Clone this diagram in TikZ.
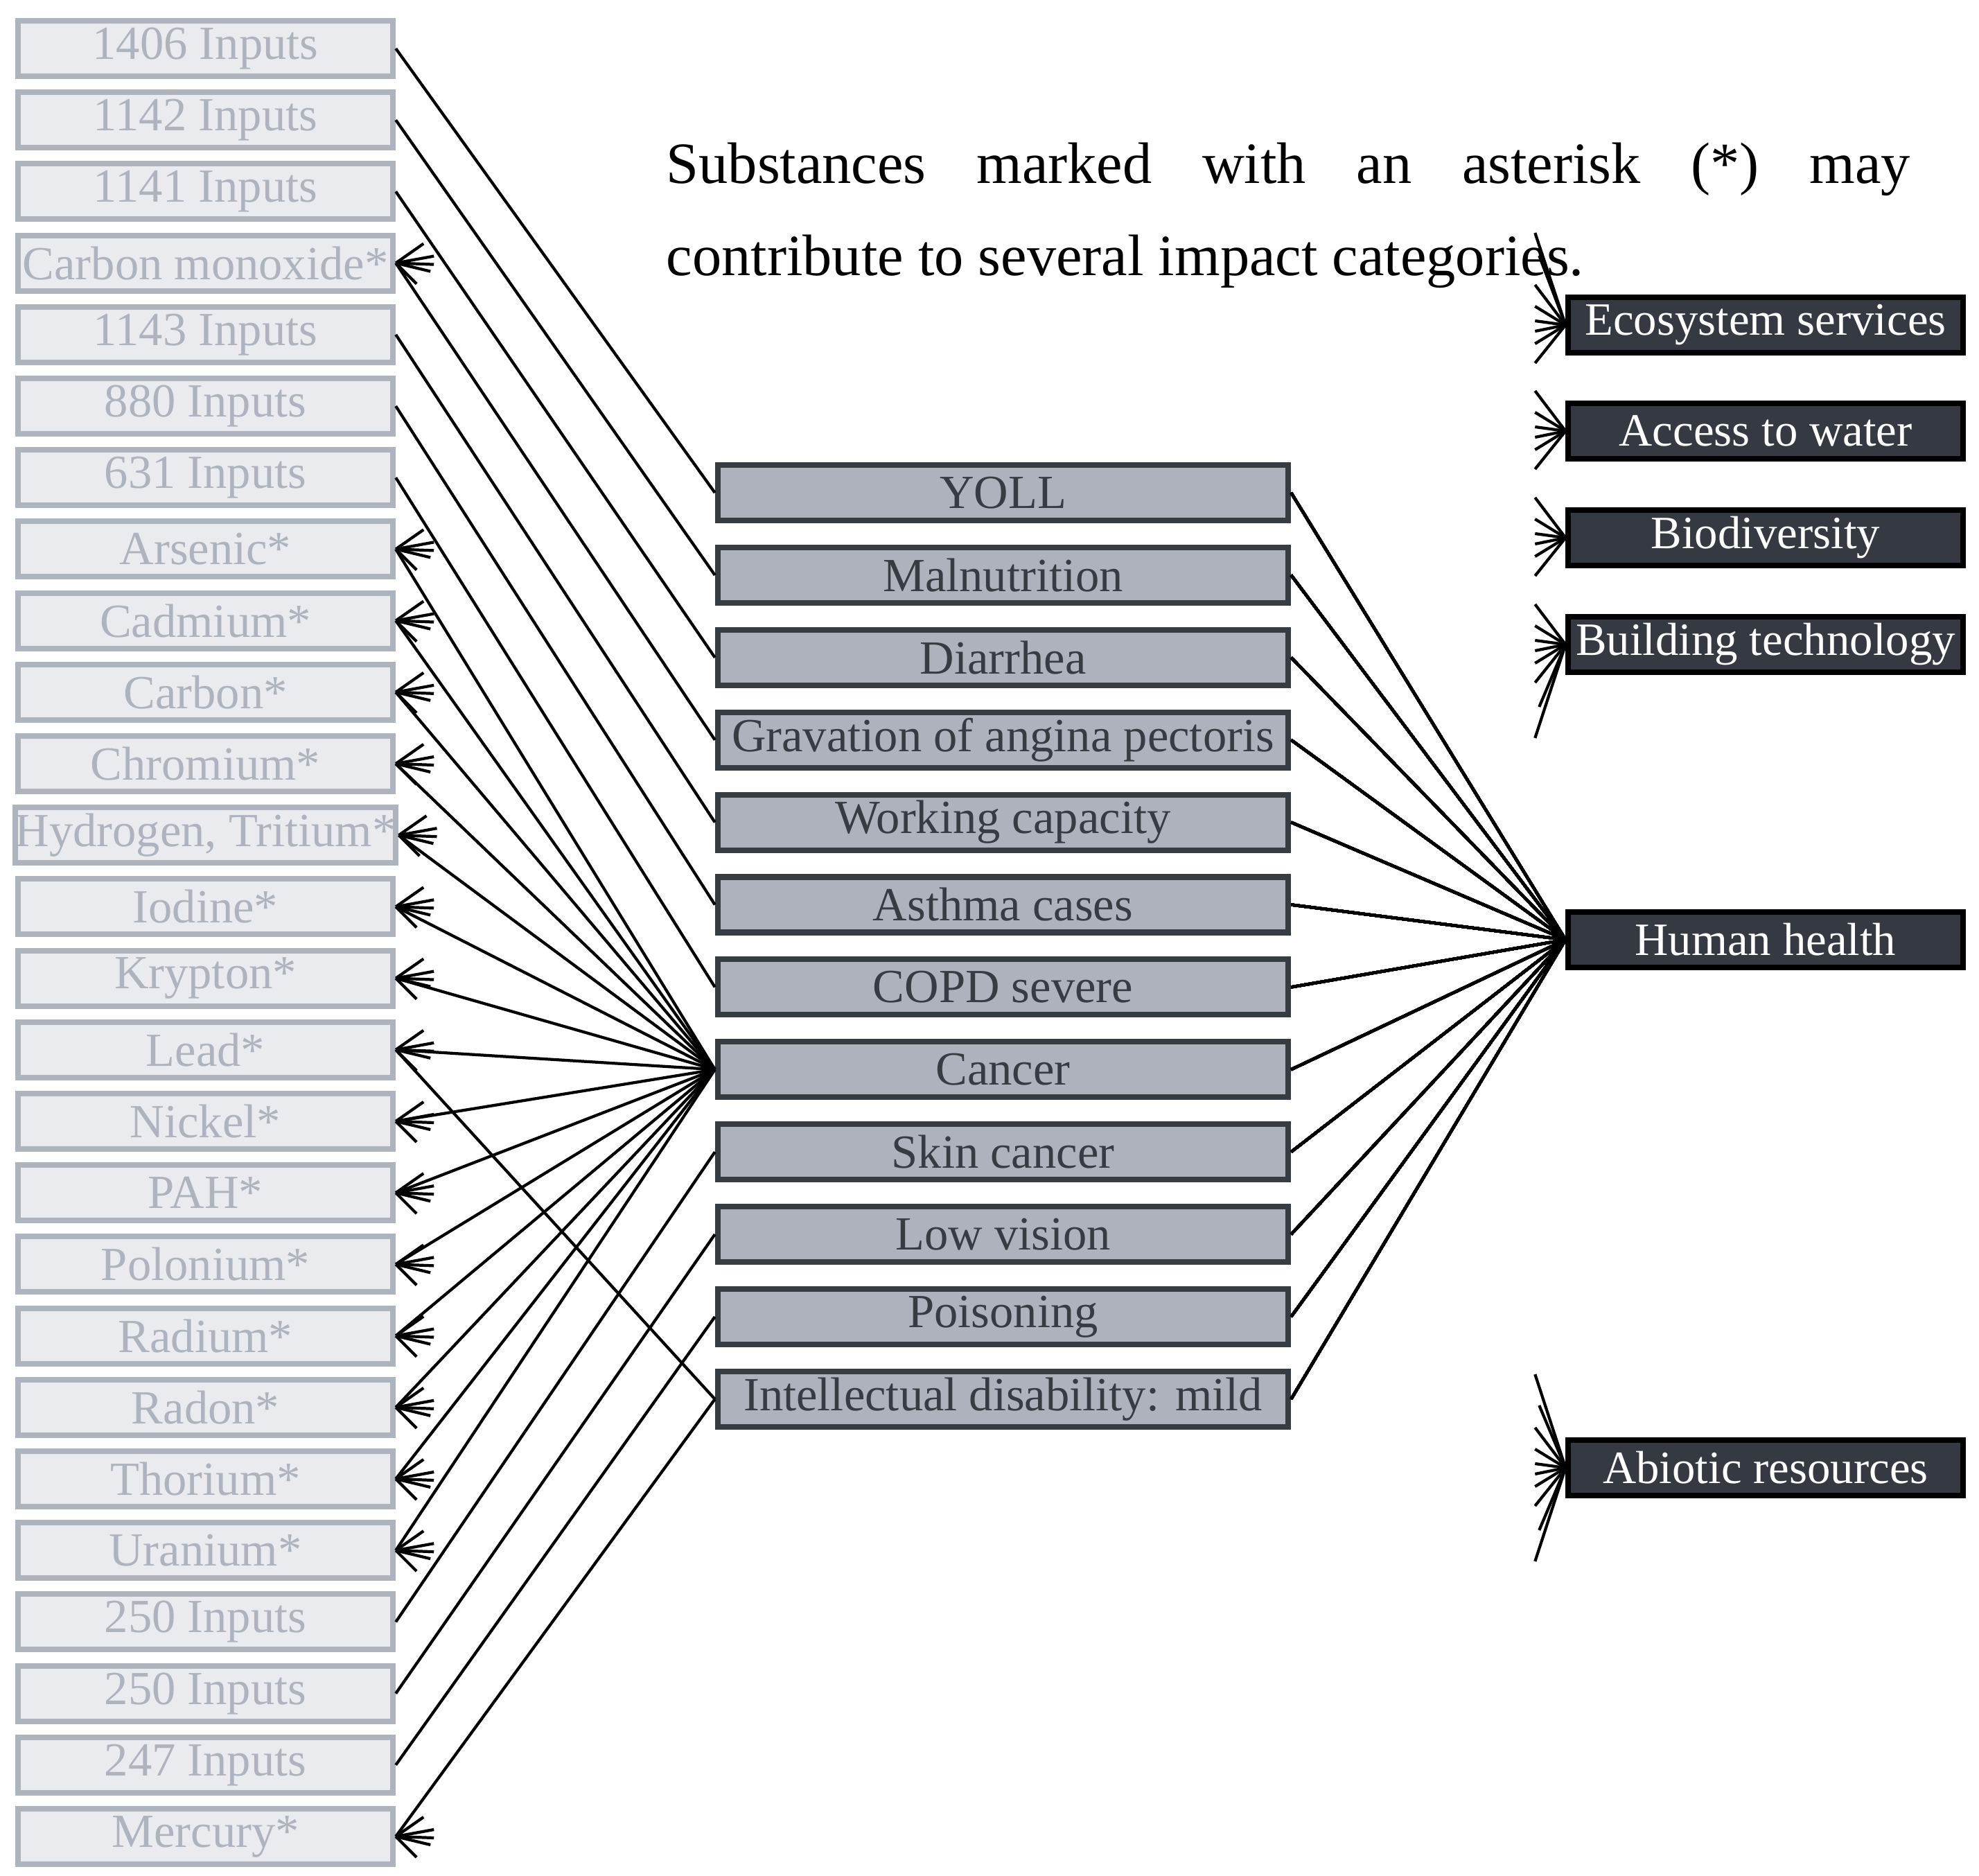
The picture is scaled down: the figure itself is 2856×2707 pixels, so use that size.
\documentclass[tikz,border=0pt]{standalone}
\usepackage{fontspec}
\setmainfont{Liberation Serif}
\begin{document}
\definecolor{lfill}{HTML}{E9EBEF}
\definecolor{lline}{HTML}{AEB4BD}
\definecolor{mfill}{HTML}{ADB2BC}
\definecolor{mline}{HTML}{373B42}
\definecolor{rfill}{HTML}{353A42}
\begin{tikzpicture}[x=0.01cm,y=-0.01cm,
  lbox/.style={draw=lline,fill=lfill,text=lline,line width=2.3pt,minimum width=5.41cm,minimum height=0.8cm,inner sep=0pt,font=\fontsize{19.5}{20}\selectfont},
  mbox/.style={draw=mline,fill=mfill,text=mline,line width=2.3pt,minimum width=8.23cm,minimum height=0.8cm,inner sep=0pt,font=\fontsize{19.5}{20}\selectfont},
  rbox/.style={draw=black,fill=rfill,text=white,line width=2.3pt,minimum width=5.69cm,minimum height=0.8cm,inner sep=0pt,font=\fontsize{19}{20}\selectfont},
  con/.style={line width=1.2pt,black}]
\useasboundingbox (0,0) rectangle (2856,2707);
\newcommand\fanleft[1]{\foreach \dx/\dy in {40/-28,55/-10,55/2,50/12,30/30} \draw[con] (#1) -- ++(\dx,\dy);}
\newcommand\fanright[2]{\foreach \dx/\dy in {#2} \draw[con] (#1) -- ++(\dx,\dy);}
% left boxes
\foreach \t [count=\i from 0] in {1406 Inputs,1142 Inputs,1141 Inputs,Carbon monoxide*,1143 Inputs,880 Inputs,631 Inputs,Arsenic*,Cadmium*,Carbon*,Chromium*,{Hydrogen, Tritium*},Iodine*,Krypton*,Lead*,Nickel*,PAH*,Polonium*,Radium*,Radon*,Thorium*,Uranium*,250 Inputs,250 Inputs,247 Inputs,Mercury*}
  \node[lbox] (L\i) at (296.5,{70+103.2*\i}) {\t};
% middle boxes
\foreach \t [count=\i from 0] in {YOLL,Malnutrition,Diarrhea,Gravation of angina pectoris,Working capacity,Asthma cases,COPD severe,Cancer,Skin cancer,Low vision,Poisoning,Intellectual disability: mild}
  \node[mbox] (M\i) at (1447.5,{711+118.9*\i}) {\t};
% right boxes
\node[rbox] (eco) at (2548,469) {Ecosystem services};
\node[rbox] (acc) at (2548,622) {Access to water};
\node[rbox] (bio) at (2548,776) {Biodiversity};
\node[rbox] (bld) at (2548,930) {Building technology};
\node[rbox] (hh) at (2548,1356) {Human health};
\node[rbox] (abi) at (2548,2118) {Abiotic resources};
% heading
\node[anchor=north west,inner sep=0pt,text width=17.94cm,align=justify,font=\fontsize{24}{38}\selectfont] (head) at (961,205) {Substances marked with an asterisk (*) may\linebreak contribute to several impact categories.};
% inputs to middle
\draw[con] (L0.east) -- (M0.west);
\draw[con] (L1.east) -- (M1.west);
\draw[con] (L2.east) -- (M2.west);
\draw[con] (M3.west) -- (L3.east);
\draw[con] (L4.east) -- (M4.west);
\draw[con] (L5.east) -- (M5.west);
\draw[con] (L6.east) -- (M6.west);
\foreach \i in {7,...,21} \draw[con] (M7.west) -- (L\i.east);
\draw[con] (L14.east) -- (M11.west);
\draw[con] (L22.east) -- (M8.west);
\draw[con] (L23.east) -- (M9.west);
\draw[con] (L24.east) -- (M10.west);
\draw[con] (M11.west) -- (L25.east);
\foreach \i in {3,7,8,9,10,11,12,13,14,15,16,17,18,19,20,21,25} \fanleft{L\i.east}
% middle to human health
\foreach \i in {0,...,11} \draw[con] (M\i.east) -- (hh.west);
% right fans
\fanright{eco.west}{-44/-133,-38/-100,-44/-58,-44/-27,-44/-6,-44/9,-44/27,-44/55}
\fanright{acc.west}{-44/-58,-44/-27,-44/-6,-44/9,-44/27,-44/55}
\fanright{bio.west}{-44/-58,-44/-27,-44/-6,-44/9,-44/27,-44/55}
\fanright{bld.west}{-44/-58,-44/-27,-44/-6,-44/9,-44/27,-44/55,-38/90,-44/135}
\fanright{abi.west}{-44/-135,-38/-90,-44/-58,-44/-27,-44/-6,-44/9,-44/27,-44/55,-38/90,-44/135}
\end{tikzpicture}
\end{document}
